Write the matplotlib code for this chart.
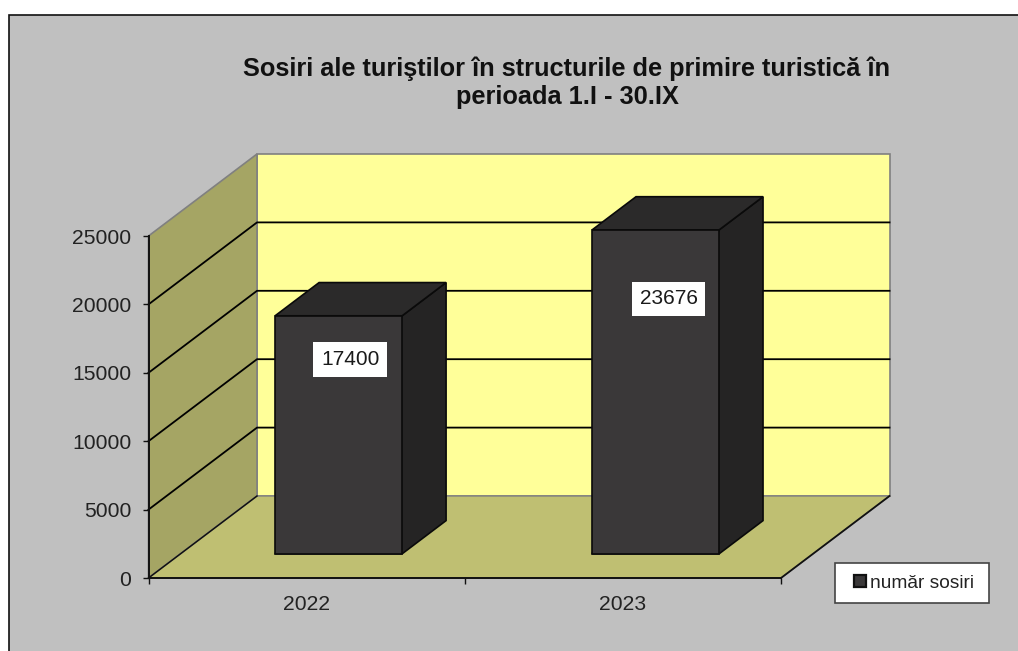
import matplotlib
matplotlib.use("Agg")
import matplotlib.pyplot as plt
from matplotlib.patches import Polygon, Rectangle, Patch

# data
categories = ["2022", "2023"]
arrivals = [17400, 23676]
y_ticks = [0, 5000, 10000, 15000, 20000, 25000]
title_lines = "Sosiri ale turiştilor în structurile de primire turistică în\nperioada 1.I - 30.IX"
series_name = "număr sosiri"

W, H = 1018, 651
plt.rcParams["font.family"] = ["Liberation Sans", "DejaVu Sans"]
fig = plt.figure(figsize=(W / 100, H / 100), dpi=100, facecolor="white")

def fx(px): return px / W
def fy(py): return 1 - py / H

# chart area
fig.add_artist(Rectangle((fx(8.5), fy(660)), fx(1030), fy(14.5) - fy(660),
                         transform=fig.transFigure, facecolor="#C0C0C0",
                         edgecolor="#111111", linewidth=1.2, zorder=-5))

L, R, B, T = 148.5, 781.0, 578.0, 236.0
ax = fig.add_axes([fx(L), fy(B), fx(R - L), fy(T) - fy(B)])
ax.set_xlim(0, 2)
ax.set_ylim(0, 25000)
ax.patch.set_visible(False)

# depth of the pseudo-3D box, in data units
DX = 108.5 / ((R - L) / 2)
DY = 82.0 / ((B - T) / 25000)
ymax = 25000

def poly(pts, fc, ec, lw=1.0, z=1):
    ax.add_patch(Polygon(pts, closed=True, facecolor=fc, edgecolor=ec, linewidth=lw,
                         clip_on=False, zorder=z, joinstyle="miter"))

# back wall, side wall, floor
poly([(DX, DY), (2 + DX, DY), (2 + DX, DY + ymax), (DX, DY + ymax)], "#FFFF99", "#808080", 1.2, 1)
poly([(0, 0), (DX, DY), (DX, DY + ymax), (0, ymax)], "#A5A564", "#808080", 1.2, 1)
poly([(0, 0), (2, 0), (2 + DX, DY), (DX, DY)], "#BFBF72", "#808080", 1.0, 1)
ax.plot([0, DX], [0, DY], color="#111111", lw=1.1, clip_on=False, zorder=2)
ax.plot([2, 2 + DX], [0, DY], color="#111111", lw=1.3, clip_on=False, zorder=2)

# gridlines
for v in y_ticks[1:-1]:
    ax.plot([0, DX, 2 + DX], [v, v + DY, v + DY], color="#000000", lw=1.3,
            clip_on=False, zorder=2)

# bars
bar_w = 127 / ((R - L) / 2)
gap = 0.295
depth = 0.405
drop_px = [44, 69]
px_to_val = 25000 / (B - T)
label_dx = [11.5 * 2 / (R - L), 13 * 2 / (R - L)]
bar_shift = 0.7 * 2 / (R - L)
for i, v in enumerate(arrivals):
    xc = i + 0.5 + gap * DX + bar_shift * i
    y0 = gap * DY
    x0, x1 = xc - bar_w / 2, xc + bar_w / 2
    ddx, ddy = depth * DX, depth * DY
    poly([(x0, y0), (x1, y0), (x1 + ddx, y0 + ddy), (x1 + ddx, y0 + v + ddy), (x1, y0 + v)],
         "#252424", "#0A0A0A", 1.2, 3)
    poly([(x0, y0 + v), (x1, y0 + v), (x1 + ddx, y0 + v + ddy), (x0 + ddx, y0 + v + ddy)],
         "#2B2A2A", "#0A0A0A", 1.2, 3)
    poly([(x0, y0), (x1, y0), (x1, y0 + v), (x0, y0 + v)], "#3A3839", "#0A0A0A", 1.2, 4)
    ax.text(xc + label_dx[i], y0 + v - drop_px[i] * px_to_val, f"{v}", ha="center", va="center",
            fontsize=15, color="#1A1A1A", zorder=6, clip_on=False,
            bbox=dict(boxstyle="square,pad=0.38", facecolor="white", edgecolor="none"))

# axes
for s in ("top", "right"):
    ax.spines[s].set_visible(False)
for s in ("left", "bottom"):
    ax.spines[s].set_color("#111111")
    ax.spines[s].set_linewidth(1.4)
    ax.spines[s].set_zorder(5)
ax.set_yticks(y_ticks)
ax.set_yticklabels([str(t) for t in y_ticks], fontsize=15.2, color="#222222")
ax.tick_params(axis="y", length=4.5, width=1.0, color="#111111", pad=8)
ax.set_xticks([0, 1, 2])
ax.set_xticklabels([])
ax.tick_params(axis="x", which="major", length=4.5, width=1.0, color="#111111")
ax.set_xticks([0.5, 1.5], minor=True)
ax.set_xticklabels(categories, minor=True, fontsize=15.2, color="#222222")
ax.tick_params(axis="x", which="minor", length=0, pad=12)

# title
fig.text(fx(567), fy(82.5), title_lines, ha="center", va="center", fontsize=18.3,
         fontweight="bold", color="#111111", linespacing=1.2)

# legend
fig.add_artist(Rectangle((fx(835), fy(603)), fx(154), fy(563) - fy(603), transform=fig.transFigure,
                         facecolor="white", edgecolor="#444444", linewidth=1.2, zorder=4))
leg = fig.legend(handles=[Patch(facecolor="#3A3839", edgecolor="#111111", linewidth=1.6, label=series_name)],
                 loc="center left", bbox_to_anchor=(fx(854), fy(583)), frameon=False, fontsize=13.8,
                 handlelength=0.62, handleheight=0.62, handletextpad=0.22, borderpad=0,
                 borderaxespad=0, labelcolor="#222222")

fig.savefig("out.png", dpi=100, facecolor="white")
